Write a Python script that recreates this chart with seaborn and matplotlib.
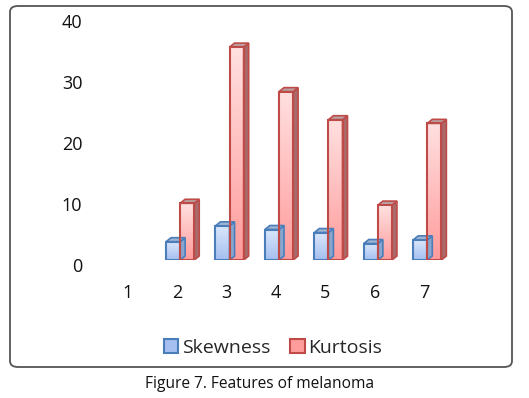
import numpy as np
import pandas as pd
import matplotlib
matplotlib.use("Agg")
import matplotlib.pyplot as plt
import matplotlib.transforms as mtransforms
import seaborn as sns
from matplotlib.patches import Polygon, FancyBboxPatch, Patch
from matplotlib.colors import LinearSegmentedColormap

categories = ["1", "2", "3", "4", "5", "6", "7"]
skewness = [0, 3.0, 5.6, 5.0, 4.5, 2.7, 3.3]
kurtosis = [0, 9.3, 34.9, 27.6, 23.0, 9.0, 22.4]
series_names = ["Skewness", "Kurtosis"]
y_ticks = [0, 10, 20, 30, 40]
caption = "Figure 7. Features of melanoma"

sns.set_theme(style="white")
plt.rcParams["font.family"] = ["Open Sans", "DejaVu Sans"]

df = pd.DataFrame({
    "cat": categories * 2,
    "series": [series_names[0]] * len(categories) + [series_names[1]] * len(categories),
    "value": skewness + kurtosis,
})

edge = {"Skewness": "#4a7ebb", "Kurtosis": "#be4b48"}
light = {"Skewness": "#dce8fb", "Kurtosis": "#ffe0e0"}
dark = {"Skewness": "#a4bff0", "Kurtosis": "#ff9c9c"}
side = {"Skewness": "#8aa6cc", "Kurtosis": "#a86a6a"}
top = {"Skewness": "#9fb4d0", "Kurtosis": "#b8a0a0"}

fig = plt.figure(figsize=(5.29, 3.98), dpi=100)
ax = fig.add_axes([106 / 529, 138 / 398, 346 / 529, 244 / 398])

sns.barplot(data=df, x="cat", y="value", hue="series", order=categories,
            hue_order=series_names, palette=dark, width=0.57, ax=ax,
            edgecolor="none", linewidth=0, legend=False, saturation=1)

ax.set_ylim(0, 40)
ax.set_xlim(-0.5, 6.5)
ax.set_yticks(y_ticks)
ax.set_xlabel("")
ax.set_ylabel("")
for s in ax.spines.values():
    s.set_visible(False)
ax.tick_params(axis="y", length=0, pad=17, labelsize=13, labelcolor="#111111")
ax.tick_params(axis="x", length=0, pad=17, labelsize=13, labelcolor="#111111")

# shift tick labels to mimic the 3D chart's label placement
ydown = mtransforms.ScaledTranslation(0, -5 / 100, fig.dpi_scale_trans)
for lab in ax.get_yticklabels():
    lab.set_transform(lab.get_transform() + ydown)
xleft = mtransforms.ScaledTranslation(-3 / 100, 0, fig.dpi_scale_trans)
for lab in ax.get_xticklabels():
    lab.set_transform(lab.get_transform() + xleft)

fig.canvas.draw()
bbox = ax.get_window_extent()
px_x = (ax.get_xlim()[1] - ax.get_xlim()[0]) / bbox.width
px_y = (ax.get_ylim()[1] - ax.get_ylim()[0]) / bbox.height
ddx = 5 * px_x
ddy = 4 * px_y

grad = np.linspace(0, 1, 100).reshape(-1, 1)
n = len(categories)
patches = list(ax.patches)
for i, p in enumerate(patches):
    sname = series_names[i // n]
    h = p.get_height()
    x = p.get_x()
    w = p.get_width()
    if h <= 0:
        p.set_visible(False)
        continue
    cmap = LinearSegmentedColormap.from_list("g", [dark[sname], light[sname]])
    im = ax.imshow(grad, extent=(x, x + w, 0, h), origin="lower", cmap=cmap,
                   aspect="auto", zorder=2)
    im.set_clip_path(p)
    p.set_facecolor("none")
    p.set_edgecolor(edge[sname])
    p.set_linewidth(1.5)
    p.set_zorder(3)
    sd = Polygon([(x + w, 0), (x + w + ddx, ddy), (x + w + ddx, h + ddy), (x + w, h)],
                 closed=True, facecolor=side[sname], edgecolor=edge[sname],
                 linewidth=1.2, zorder=2.5)
    tp = Polygon([(x, h), (x + ddx, h + ddy), (x + w + ddx, h + ddy), (x + w, h)],
                 closed=True, facecolor=top[sname], edgecolor=edge[sname],
                 linewidth=1.2, zorder=2.5)
    ax.add_patch(sd)
    ax.add_patch(tp)

ax.set_ylim(0, 40)
ax.set_xlim(-0.5, 6.5)

handles = [Patch(facecolor=dark[s], edgecolor=edge[s], linewidth=1.5, label=s)
           for s in series_names]
fig.legend(handles=handles, loc="center", bbox_to_anchor=(0.516, 0.126), ncol=2,
           frameon=False, fontsize=14, handlelength=0.75, handleheight=0.75,
           handletextpad=0.2, columnspacing=1.0)

frame = FancyBboxPatch((10 / 529, 1 - 367 / 398), 502 / 529, 361 / 398,
                       boxstyle="round,pad=0,rounding_size=0.015",
                       transform=fig.transFigure, facecolor="none",
                       edgecolor="#555555", linewidth=1.3)
fig.add_artist(frame)
fig.text(0.49, 1 - 384 / 398, caption, ha="center", va="center", fontsize=11.2,
         color="#111111")

fig.savefig("out.png", dpi=100)
